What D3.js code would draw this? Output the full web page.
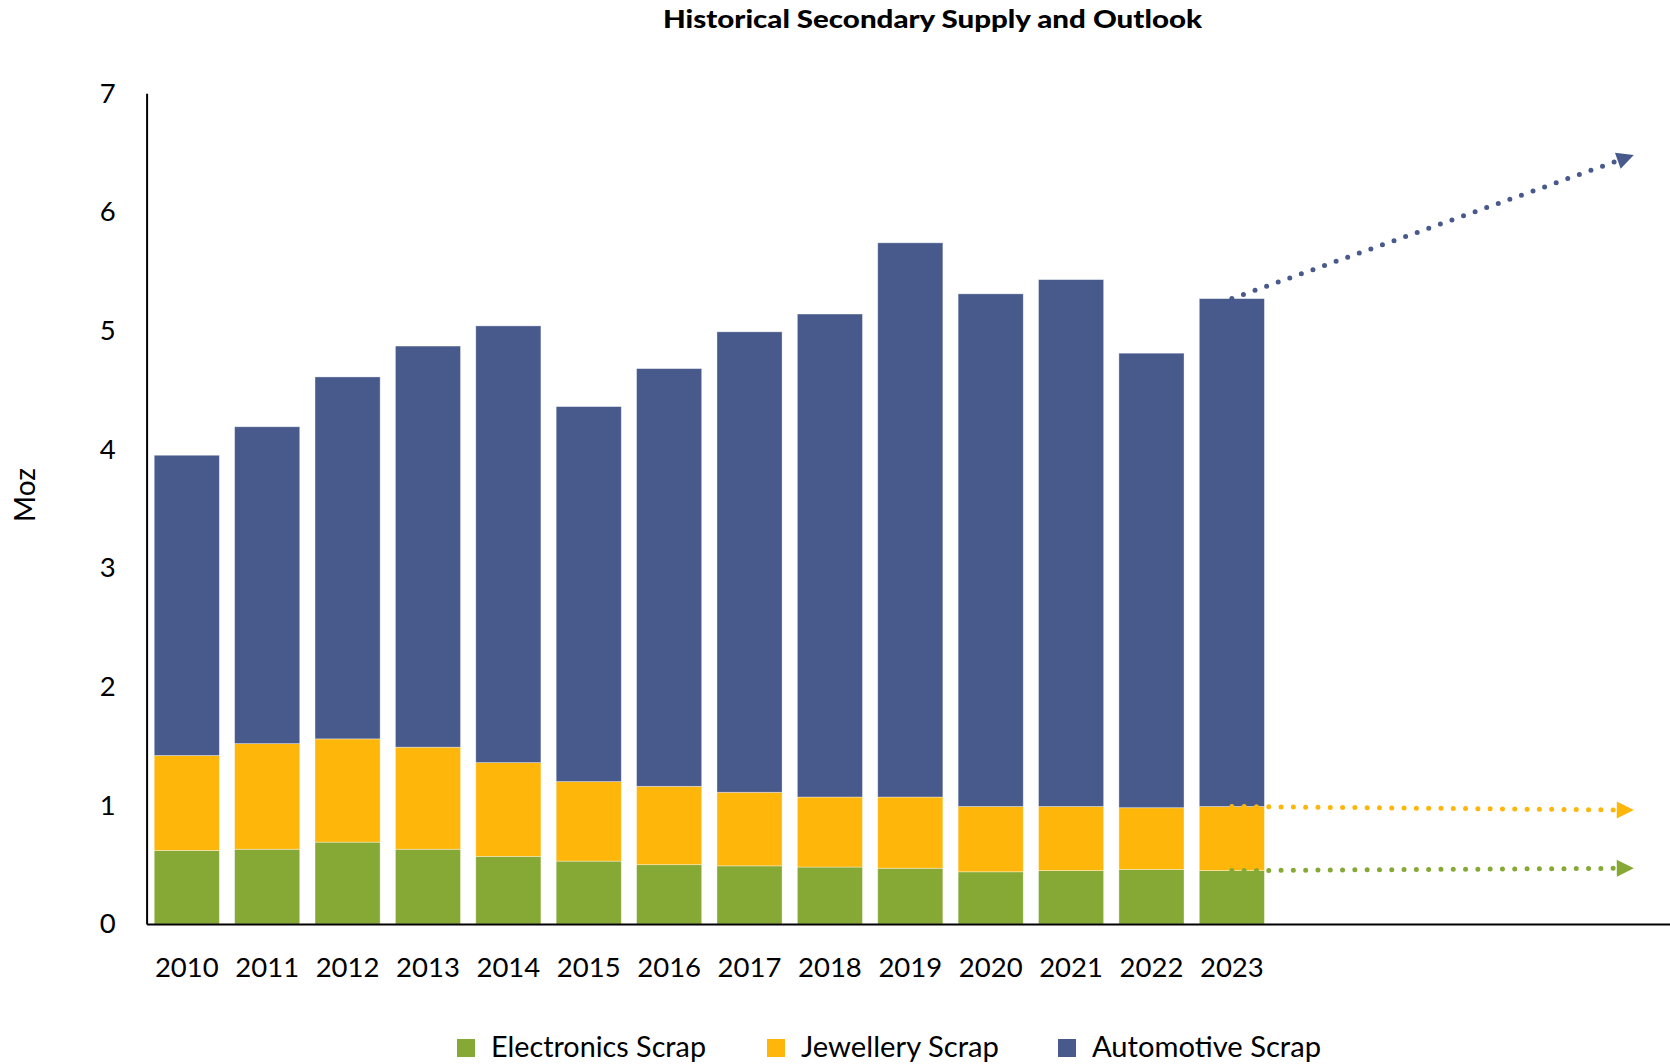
<!DOCTYPE html>
<html>
<head>
<meta charset="utf-8">
<script src="https://cdn.jsdelivr.net/npm/d3@7"></script>
<style>
  html, body { margin: 0; padding: 0; background: #fff; }
  svg { display: block; font-family: Lato, "Open Sans", sans-serif; }
</style>
</head>
<body>
<svg id="chart" width="1670" height="1064"></svg>
<script>
// ---- data ----
const years = ['2010','2011','2012','2013','2014','2015','2016','2017','2018','2019','2020','2021','2022','2023'];
const outlookYears = ['2024','2025','2026','2027','2028'];
const electronics = [0.62,0.63,0.69,0.63,0.57,0.53,0.50,0.49,0.48,0.47,0.44,0.45,0.46,0.45];
const jewellery   = [0.80,0.89,0.87,0.86,0.79,0.67,0.66,0.62,0.59,0.60,0.55,0.54,0.52,0.54];
const automotive  = [2.53,2.67,3.05,3.38,3.68,3.16,3.52,3.88,4.07,4.67,4.32,4.44,3.83,4.28];
const seriesNames = ['Electronics Scrap','Jewellery Scrap','Automotive Scrap'];
const seriesColors = ['#86A935','#FFB60B','#485A8C'];
// outlook arrows: cumulative level reached in the last outlook year
const outlookLevels = [0.47, 0.96, 6.48];
const yTicks = [0,1,2,3,4,5,6,7];
const titleText = 'Historical Secondary Supply and Outlook';
const yLabel = 'Moz';

(function () {
// ---- layout ----
const svg = d3.select('#chart');
const mLeft = 146.6, mRight = 1674, mTop = 93.3, mBottom = 924;

const allYears = years.concat(outlookYears);
const x = d3.scaleBand().domain(allYears).range([mLeft, mRight]).paddingInner(0.19).paddingOuter(0.095);
const y = d3.scaleLinear().domain([0, 7]).range([mBottom, mTop]);

const rows = years.map((yr, i) => ({year: yr, e: electronics[i], j: jewellery[i], a: automotive[i]}));
const stacked = d3.stack().keys(['e','j','a'])(rows);

// bars
svg.append('g').selectAll('g').data(stacked).join('g')
  .attr('fill', (d, i) => seriesColors[i])
  .selectAll('rect').data(d => d).join('rect')
    .attr('x', d => x(d.data.year))
    .attr('width', x.bandwidth())
    .attr('y', d => y(d[1]))
    .attr('height', d => y(d[0]) - y(d[1]))
    .attr('stroke', '#fff').attr('stroke-opacity', 0.45).attr('stroke-width', 0.8);

// axes
const yAxis = d3.axisLeft(y).tickValues(yTicks).tickFormat(d3.format('d'))
  .tickSizeInner(0).tickSizeOuter(0).tickPadding(31);
const gy = svg.append('g').attr('transform', `translate(${mLeft},0)`).call(yAxis);
gy.select('.domain').attr('stroke', '#000').attr('stroke-width', 2);
gy.selectAll('text').attr('font-size', 27.5).attr('font-family', 'Lato').attr('fill', '#000');

const xAxis = d3.axisBottom(x).tickValues(years).tickSizeInner(0).tickSizeOuter(0).tickPadding(33);
const gx = svg.append('g').attr('transform', `translate(0,${mBottom})`).call(xAxis);
gx.select('.domain').attr('stroke', '#000').attr('stroke-width', 2.2);
gx.selectAll('text').attr('font-size', 27.5).attr('font-family', 'Lato').attr('fill', '#000');

// outlook arrows
const last = years[years.length - 1];
const lastOut = outlookYears[outlookYears.length - 1];
const lastRow = rows[rows.length - 1];
const startLevels = [lastRow.e, lastRow.e + lastRow.j, lastRow.e + lastRow.j + lastRow.a];
const headLen = 17, headHalf = 8.5;
const ga = svg.append('g');
startLevels.forEach((s, i) => {
  const x1 = x(last) + x.bandwidth() / 2, y1 = y(s);
  const x2 = x(lastOut) + x.bandwidth() / 2, y2 = y(outlookLevels[i]);
  const dx = x2 - x1, dy = y2 - y1, len = Math.hypot(dx, dy);
  const ux = dx / len, uy = dy / len;
  const bx = x2 - ux * headLen, by = y2 - uy * headLen;
  ga.append('line')
    .attr('x1', x1).attr('y1', y1).attr('x2', bx).attr('y2', by)
    .attr('stroke', seriesColors[i]).attr('stroke-width', 5)
    .attr('stroke-linecap', 'round').attr('stroke-dasharray', '0 12.3');
  ga.append('path')
    .attr('d', `M${x2},${y2} L${bx - uy * headHalf},${by + ux * headHalf} L${bx + uy * headHalf},${by - ux * headHalf} Z`)
    .attr('fill', seriesColors[i]);
});

// title
svg.append('text').attr('x', 932.5).attr('y', 28).attr('text-anchor', 'middle')
  .attr('font-family', 'Lato').attr('font-weight', 900).attr('font-size', 25.5)
  .attr('textLength', 539).attr('lengthAdjust', 'spacingAndGlyphs')
  .attr('fill', '#000').text(titleText);

// y label
svg.append('text').attr('transform', 'translate(35,495) rotate(-90)').attr('text-anchor', 'middle')
  .attr('font-family', 'Lato').attr('font-size', 28).attr('fill', '#000').text(yLabel);

// legend
const legendX = [457, 767, 1058];
const legendW = [215, 198, 229];
const lg = svg.append('g');
seriesNames.forEach((n, i) => {
  lg.append('rect').attr('x', legendX[i]).attr('y', 1039).attr('width', 18).attr('height', 18).attr('fill', seriesColors[i]);
  lg.append('text').attr('x', legendX[i] + 34).attr('y', 1056.5)
    .attr('font-family', 'Lato').attr('font-size', 28)
    .attr('textLength', legendW[i]).attr('lengthAdjust', 'spacingAndGlyphs')
    .attr('fill', '#000').text(n);
});
})();
</script>
</body>
</html>
